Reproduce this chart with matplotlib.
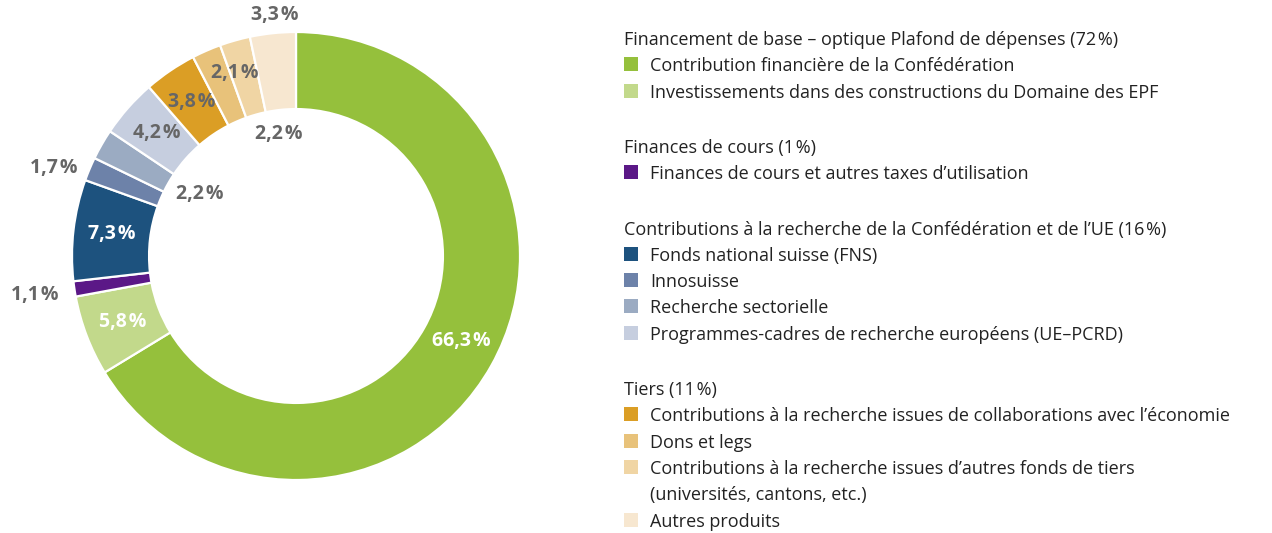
import numpy as np
import matplotlib.pyplot as plt
from matplotlib.patches import Rectangle

plt.rcParams['font.family'] = ['Open Sans', 'DejaVu Sans']

# slices, clockwise from 12 o'clock
shares = [66.3, 5.8, 1.1, 7.3, 1.7, 2.2, 4.2, 3.8, 2.1, 2.2, 3.3]
share_labels = ['66,3\u200a%', '5,8\u200a%', '1,1\u200a%', '7,3\u200a%', '1,7\u200a%', '2,2\u200a%',
                '4,2\u200a%', '3,8\u200a%', '2,1\u200a%', '2,2\u200a%', '3,3\u200a%']
colors = ['#95c03c', '#c2d98b', '#5b1887', '#1d527e', '#6d82a9', '#9babc2',
          '#c6cedf', '#db9e25', '#e8c27a', '#f0d5a4', '#f7e7d0']

groups = [
    ('Financement de base \u2013 optique Plafond de dépenses (72\u200a%)',
     ['Contribution financière de la Confédération',
      'Investissements dans des constructions du Domaine des EPF']),
    ('Finances de cours (1\u200a%)',
     ['Finances de cours et autres taxes d\u2019utilisation']),
    ('Contributions à la recherche de la Confédération et de l\u2019UE (16\u200a%)',
     ['Fonds national suisse (FNS)', 'Innosuisse', 'Recherche sectorielle',
      'Programmes-cadres de recherche européens (UE\u2013PCRD)']),
    ('Tiers (11\u200a%)',
     ['Contributions à la recherche issues de collaborations avec l\u2019économie',
      'Dons et legs',
      'Contributions à la recherche issues d\u2019autres fonds de tiers\n(universités, cantons, etc.)',
      'Autres produits']),
]

W, H = 1272, 533
fig = plt.figure(figsize=(W / 100, H / 100), dpi=100)
ax = fig.add_axes([0, 0, 1, 1])

cx, cy, R = 296, H - 256, 224
wedges, _ = ax.pie(shares, colors=colors, startangle=90, counterclock=False,
                   center=(cx, cy), radius=R, frame=True,
                   wedgeprops=dict(width=R * 0.344, edgecolor='white', linewidth=1.6))

# label placement: radius factor, angle nudge, colour
label_pos = [(0.83, 2, 'white'), (0.83, 0, 'white'), (1.18, 0, '#666666'),
             (0.83, 0, 'white'), (1.15, 3, '#666666'), (0.51, -3, '#666666'),
             (0.83, 0, '#666666'), (0.83, 0, '#666666'), (0.86, -5, '#666666'),
             (0.55, -8, '#666666'), (1.08, -1, '#666666')]
for w, lab, (rf, dang, col) in zip(wedges, share_labels, label_pos):
    ang = np.deg2rad((w.theta1 + w.theta2) / 2 + dang)
    ax.text(cx + rf * R * np.cos(ang), cy + rf * R * np.sin(ang), lab,
            ha='center', va='center', fontsize=14, fontweight='bold', color=col)

# legend
x0, xt = 624, 650
step = 26.3
y = 38
k = 0
for header, items in groups:
    ax.text(x0, H - (y + 7), header, fontsize=13, color='#222222', va='baseline')
    y += step
    for item in items:
        ax.add_patch(Rectangle((x0, H - y - 7), 14, 14, facecolor=colors[k], edgecolor='none'))
        for line in item.split('\n'):
            ax.text(xt, H - (y + 7), line, fontsize=13, color='#222222', va='baseline')
            y += step
        k += 1
    y += 29

ax.set_xlim(0, W)
ax.set_ylim(0, H)
ax.axis('off')
fig.savefig('out.png', dpi=100)
